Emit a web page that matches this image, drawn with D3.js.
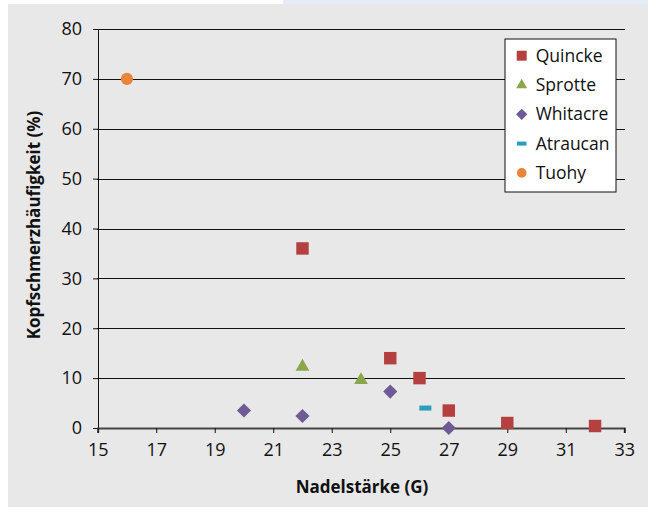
<!doctype html>
<html>
  <head>
    <script src="https://cdnjs.cloudflare.com/ajax/libs/d3/7.8.5/d3.min.js"></script>
    <style>
      body { margin: 0; background: #fff; }
      text { font-family: "Open Sans", "Noto Sans", sans-serif; fill: #111; }
      .tick text { font-size: 18px; }
      .title { font-size: 17px; font-weight: bold; }
      .legend text { font-size: 17.5px; }
    </style>
  </head>
  <body>
    <svg id="chart" width="648" height="507"></svg>
    <script>
      // data per needle type: [gauge, headache %]
      var quincke = [[22, 36], [25, 14], [26, 10], [27, 3.5], [29, 1], [32, 0.4]];
      var sprotte = [[22, 12.3], [24, 9.6]];
      var whitacre = [[20, 3.5], [22, 2.4], [25, 7.3], [27, 0]];
      var atraucan = [[26.2, 4]];
      var tuohy = [[16, 70]];

      var xTicks = [15, 17, 19, 21, 23, 25, 27, 29, 31, 33];
      var yTicks = [0, 10, 20, 30, 40, 50, 60, 70, 80];
      var names = ["Quincke", "Sprotte", "Whitacre", "Atraucan", "Tuohy"];

      var series = [
        { name: names[0], data: quincke, shape: "square", color: "#b4413f" },
        { name: names[1], data: sprotte, shape: "triangle", color: "#8aa84a" },
        { name: names[2], data: whitacre, shape: "diamond", color: "#705a96" },
        { name: names[3], data: atraucan, shape: "dash", color: "#2b9ebd" },
        { name: names[4], data: tuohy, shape: "circle", color: "#e9853a" }
      ];

      var svg = d3.select("#chart");

      // background panels
      svg.append("rect").attr("x", 283).attr("y", 0).attr("width", 365).attr("height", 5).attr("fill", "#e4ecf6");
      svg.append("rect").attr("x", 8).attr("y", 4).attr("width", 640).attr("height", 503).attr("fill", "#e8e8e8");

      var x = d3.scaleLinear().domain([15, 33]).range([97.7, 624.3]);
      var y = d3.scaleLinear().domain([0, 80]).range([428, 29]);

      // gridlines
      svg.append("g").selectAll("line")
        .data(yTicks.filter(d => d > 0)).enter()
        .append("line")
          .attr("x1", 97).attr("x2", 625)
          .attr("y1", d => Math.round(y(d)) + 0.5).attr("y2", d => Math.round(y(d)) + 0.5)
          .attr("stroke", "#111").attr("stroke-width", 1);

      var yAxis = svg.append("g")
        .attr("transform", "translate(98,0)")
        .call(d3.axisLeft(y).tickValues(yTicks).tickSize(5).tickPadding(11));
      yAxis.select(".domain").attr("stroke", "#111");

      var xAxis = svg.append("g")
        .attr("transform", "translate(0,428)")
        .call(d3.axisBottom(x).tickValues(xTicks).tickSize(5).tickPadding(10));
      xAxis.select(".domain").attr("stroke", "#444").attr("stroke-width", 2);
      svg.selectAll(".tick line").attr("stroke", "#111");

      svg.append("text").attr("class", "title")
        .attr("x", 362).attr("y", 493).attr("text-anchor", "middle")
        .text("Nadelstärke (G)");
      svg.append("text").attr("class", "title")
        .attr("transform", "translate(39.5,225) rotate(-90)").attr("text-anchor", "middle")
        .text("Kopfschmerzhäufigkeit (%)");

      var symbols = {
        square: d3.symbol().type(d3.symbolSquare).size(155),
        triangle: d3.symbol().type(d3.symbolTriangle).size(82),
        diamond: d3.symbol().type(d3.symbolSquare).size(100),
        circle: d3.symbol().type(d3.symbolCircle).size(115)
      };

      function drawMarker(g, s) {
        if (s.shape === "dash") {
          g.append("rect").attr("x", -6).attr("y", -2.5).attr("width", 12).attr("height", 5).attr("fill", s.color);
        } else {
          g.append("path").attr("d", symbols[s.shape]())
            .attr("transform", s.shape === "diamond" ? "rotate(45)" : null)
            .attr("fill", s.color);
        }
      }

      series.forEach(function (s) {
        svg.append("g").selectAll("g")
          .data(s.data).enter()
          .append("g")
            .attr("transform", d => `translate(${x(d[0])},${y(d[1])})`)
            .each(function () { drawMarker(d3.select(this), s); });
      });

      // legend
      var legend = svg.append("g").attr("class", "legend");
      legend.append("rect")
        .attr("x", 505).attr("y", 39).attr("width", 111).attr("height", 153)
        .attr("fill", "#fff").attr("stroke", "#111");
      var item = legend.selectAll("g.item")
        .data(series).enter()
        .append("g").attr("class", "item")
          .attr("transform", (d, i) => `translate(521.7,${55.7 + i * 29.3})`);
      item.each(function (s) {
        var g = d3.select(this).append("g").attr("transform", "scale(0.8)");
        drawMarker(g, s);
      });
      item.append("text").attr("x", 14).attr("dy", "0.35em").text(d => d.name);
    </script>
  </body>
</html>
